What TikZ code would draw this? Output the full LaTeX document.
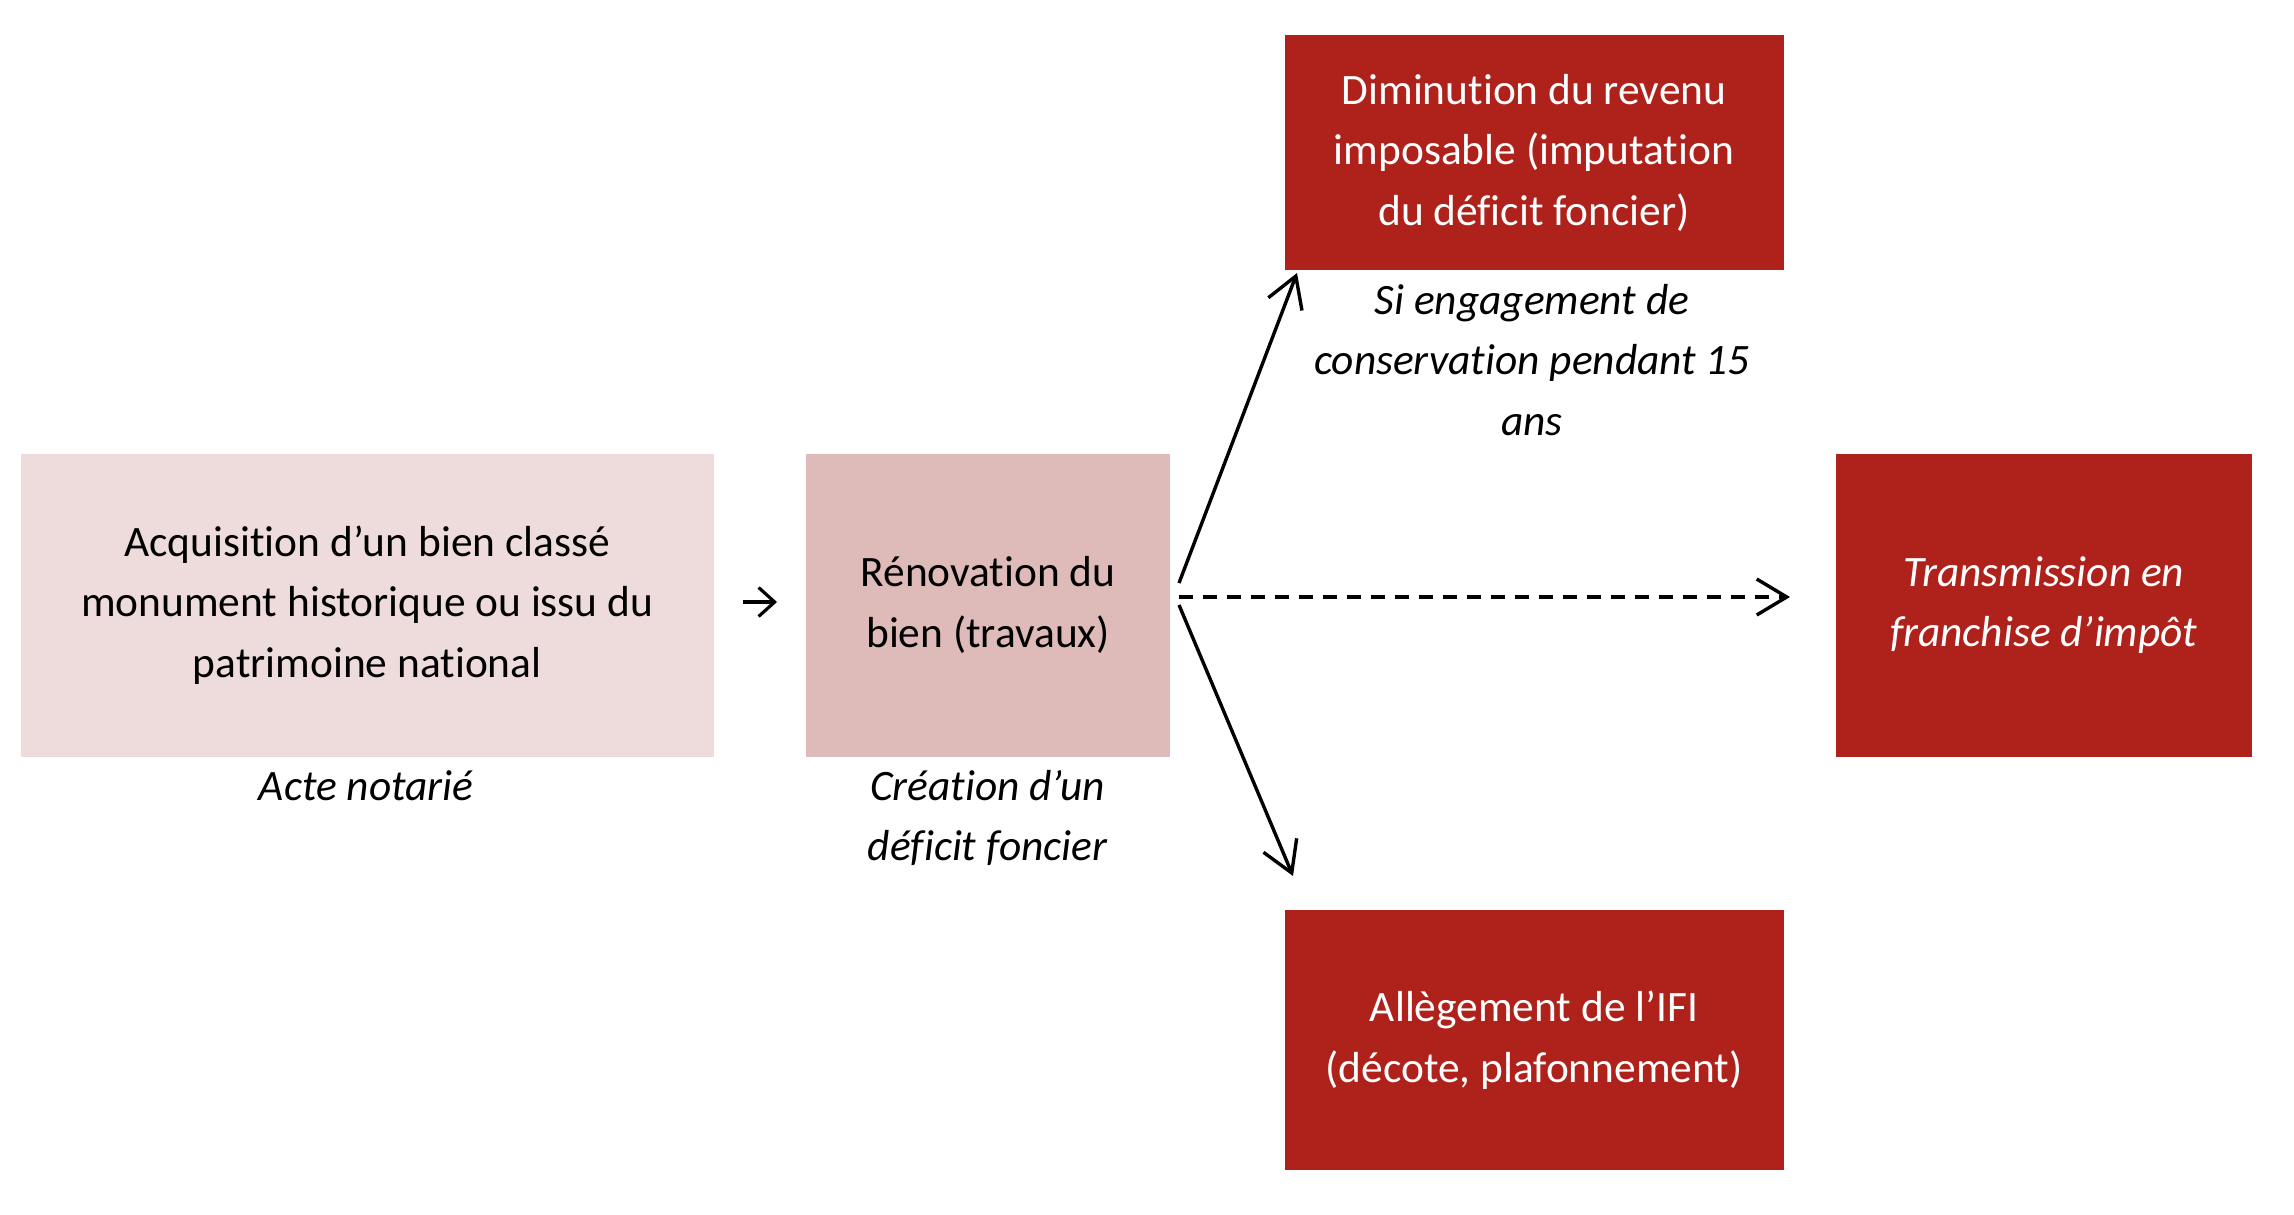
\documentclass[tikz,border=0pt]{standalone}
\usepackage{fontspec}
\setmainfont{Carlito}[Ligatures=NoCommon]
\usetikzlibrary{arrows.meta}
\definecolor{pinkA}{RGB}{238,220,220}
\definecolor{pinkB}{RGB}{222,186,185}
\definecolor{redbox}{RGB}{175,34,27}
\tikzset{
  txt/.style={font=\fontsize{21.7}{30.3}\selectfont, align=center, inner sep=0pt},
  lightbox/.style={txt, fill=pinkA},
  midbox/.style={txt, fill=pinkB},
  redbox/.style={txt, fill=redbox, text=white},
  note/.style={txt, font=\fontsize{21.7}{30.3}\selectfont\itshape},
  arr/.style={line width=1.7pt, -{Straight Barb[length=15pt,width=18pt,line width=1.7pt]}},
}
\begin{document}
\begin{tikzpicture}[x=0.5pt,y=-0.5pt]
\useasboundingbox (0,0) rectangle (2294,1214);
\node[lightbox, minimum width=346.75pt, minimum height=151.5pt] (acq) at (367.25,605) {Acquisition d’un bien classé\\monument historique ou issu du\\patrimoine national};
\node[midbox, minimum width=182pt, minimum height=151.5pt] (reno) at (988,605) {Rénovation du\\bien (travaux)};
\node[redbox, minimum width=249.5pt, minimum height=117.8pt] (dimi) at (1534,152.6) {Diminution du revenu\\imposable (imputation\\du déficit foncier)};
\node[redbox, minimum width=207.8pt, minimum height=151.5pt, font=\fontsize{21.7}{30.3}\selectfont\itshape] (trans) at (2043.8,605) {Transmission en\\franchise d’impôt};
\node[redbox, minimum width=249.5pt, minimum height=130.2pt] (ifi) at (1534,1040.2) {Allègement de l’IFI\\(décote, plafonnement)};

\node[note] (acte) at (366,786) {Acte notarié};
\node[note] (crea) at (987.5,818) {Création d’un\\déficit foncier};
\node[note] (si) at (1532,360) {Si engagement de\\conservation pendant 15\\ans};

\coordinate (s0) at (743,602);
\coordinate (t0) at (777,602);
\coordinate (s1) at (1179,583);
\coordinate (t1) at (1297,273);
\coordinate (s2) at (1179,597);
\coordinate (t2) at (1790,597);
\coordinate (s3) at (1179,605);
\coordinate (t3) at (1293,876);

\draw[line width=1.6pt, -{Straight Barb[length=8pt,width=14.5pt,line width=1.6pt]}] (s0) -- (t0);
\draw[arr] (s1) -- (t1);
\draw[arr, dash pattern=on 7pt off 5pt] (s2) -- (t2);
\draw[arr] (s3) -- (t3);
\end{tikzpicture}
\end{document}
